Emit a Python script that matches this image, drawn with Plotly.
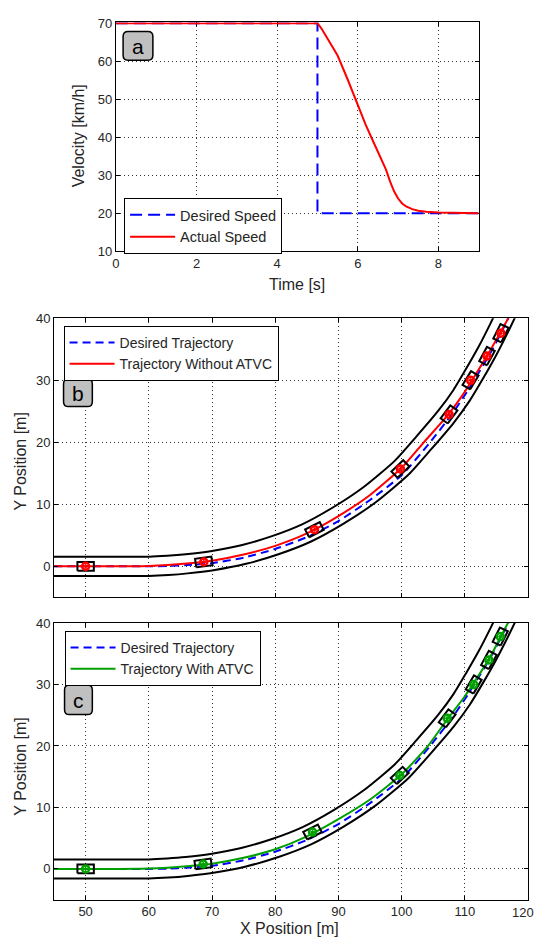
import math
import plotly.graph_objects as go

W, H = 536, 947

# ---------------- Panel a: velocity ----------------
t_desired = [0, 5, 5, 9]
v_desired = [70, 70, 20, 20]
t_actual = [0, 5.0, 5.1, 5.3, 5.5, 5.75, 6.0, 6.2, 6.4, 6.55, 6.7, 6.8, 6.9, 7.0, 7.1, 7.2, 7.35, 7.5, 7.7, 8.0, 8.5, 9.0]
v_actual = [70, 70, 68.6, 65.2, 61.5, 55.2, 48.5, 43.2, 38.5, 35.0, 31.5, 28.4, 25.8, 23.9, 22.6, 21.8, 21.1, 20.7, 20.4, 20.2, 20.1, 20.0]

# ---------------- Road edges ----------------
road_upper_x = [45, 55, 60, 62.89, 65.85, 69.76, 74.62, 79.49, 84.33, 89.18, 94.05, 98.90, 102.32, 105.77, 108.20, 110.15, 112.13, 114.10, 115.60]
road_upper_y = [1.55, 1.55, 1.55, 1.70, 1.94, 2.43, 3.40, 4.86, 6.80, 9.52, 12.83, 17.00, 20.91, 25.05, 28.44, 31.77, 35.32, 39.27, 42.46]
road_lower_x = [45, 55, 60, 63.11, 66.15, 70.24, 75.38, 80.51, 85.67, 90.82, 95.95, 101.10, 104.68, 108.23, 110.80, 112.85, 114.87, 116.90, 118.40]
road_lower_y = [-1.55, -1.55, -1.55, -1.40, -1.14, -0.63, 0.40, 1.94, 4.00, 6.88, 10.37, 14.80, 18.89, 23.15, 26.76, 30.23, 33.88, 37.93, 41.14]

# ---------------- Trajectories ----------------
desired_x = [45, 50, 55, 60, 63, 66, 70, 75, 80, 85, 90, 95, 100, 104.5, 108, 110.5, 112, 114, 116, 117.3]
desired_y = [0, 0, 0, 0, 0.05, 0.2, 0.5, 1.4, 2.8, 4.7, 7.3, 10.7, 14.7, 20.0, 24.6, 28.4, 30.9, 34.3, 38.2, 41.0]

without_x = [45, 50, 55, 60, 63, 66, 70, 75, 80, 85, 90, 95, 100, 103.5, 107, 109.5, 111.5, 113.5, 115.5, 117.2]
without_y = [0, 0, 0, 0.05, 0.2, 0.45, 0.9, 1.9, 3.3, 5.3, 8.1, 11.5, 15.9, 20.0, 24.0, 27.4, 30.6, 33.9, 37.5, 40.6]

with_x = [45, 50, 55, 60, 63, 66, 70, 75, 80, 85, 90, 95, 100, 104, 107.2, 110, 112, 114, 116, 117.3]
with_y = [0, 0, 0, 0.05, 0.2, 0.45, 0.85, 1.8, 3.2, 5.3, 8.1, 11.3, 15.4, 19.8, 24.3, 28.1, 31.2, 34.5, 38.4, 41.0]

# ---------------- Vehicle snapshots ----------------
car_b_x = [50, 68.7, 86.2, 99.8, 107.5, 110.9, 113.5, 115.7]
car_b_y = [0, 0.7, 5.9, 15.7, 24.5, 30.0, 33.9, 37.6]
car_b_heading = [0, 8, 27, 44, 54, 59, 62, 64]

car_c_x = [50, 68.6, 85.9, 99.7, 107.2, 111.4, 113.8, 115.6]
car_c_y = [0, 0.8, 6.0, 15.2, 24.5, 30.0, 34.0, 37.8]
car_c_heading = [0, 8, 27, 44, 54, 60, 62, 64]

x_ticks_traj = [50, 60, 70, 80, 90, 100, 110, 120]
y_ticks_traj = [0, 10, 20, 30, 40]

CAR_L, CAR_W = 2.6, 1.4

FONT = "Liberation Sans, Arial, sans-serif"
TXT = "#262626"
BLUE = "#0000FF"
RED = "#FF0000"
GREEN = "#00A000"


def car_boxes(xs, ys, hs):
    bx, by = [], []
    for x, y, h in zip(xs, ys, hs):
        a = math.radians(h)
        c, s = math.cos(a), math.sin(a)
        for dx, dy in [(-1, -1), (1, -1), (1, 1), (-1, 1), (-1, -1)]:
            lx, ly = dx * CAR_L / 2, dy * CAR_W / 2
            bx.append(x + lx * c - ly * s)
            by.append(y + lx * s + ly * c)
        bx.append(None)
        by.append(None)
    return bx, by


fig = go.Figure()

# Panel a
fig.add_trace(go.Scatter(x=t_desired, y=v_desired, mode="lines", name="Desired Speed",
                         line=dict(color=BLUE, width=2, dash="12px,6px"),
                         xaxis="x", yaxis="y", legend="legend"))
fig.add_trace(go.Scatter(x=t_actual, y=v_actual, mode="lines", name="Actual Speed",
                         line=dict(color=RED, width=2),
                         xaxis="x", yaxis="y", legend="legend"))


def add_traj_panel(xa, ya, leg, tx, ty, tname, tcolor, cx, cy, ch):
    for ex, ey in [(road_upper_x, road_upper_y), (road_lower_x, road_lower_y)]:
        fig.add_trace(go.Scatter(x=ex, y=ey, mode="lines", showlegend=False,
                                 line=dict(color="black", width=2, shape="spline", smoothing=0.6),
                                 xaxis=xa, yaxis=ya, hoverinfo="skip"))
    fig.add_trace(go.Scatter(x=desired_x, y=desired_y, mode="lines", name="Desired Trajectory",
                             line=dict(color=BLUE, width=2, dash="8px,5px", shape="spline", smoothing=0.6),
                             xaxis=xa, yaxis=ya, legend=leg))
    fig.add_trace(go.Scatter(x=tx, y=ty, mode="lines", name=tname,
                             line=dict(color=tcolor, width=2, shape="spline", smoothing=0.6),
                             xaxis=xa, yaxis=ya, legend=leg))
    bx, by = car_boxes(cx, cy, ch)
    fig.add_trace(go.Scatter(x=bx, y=by, mode="lines", showlegend=False,
                             line=dict(color="black", width=2),
                             xaxis=xa, yaxis=ya, hoverinfo="skip"))
    fig.add_trace(go.Scatter(x=cx, y=cy, mode="markers", showlegend=False,
                             marker=dict(symbol="circle-open-dot", size=7, color=tcolor,
                                         line=dict(color=tcolor, width=2.5)),
                             xaxis=xa, yaxis=ya, hoverinfo="skip"))


add_traj_panel("x2", "y2", "legend2", without_x, without_y, "Trajectory Without ATVC", RED,
               car_b_x, car_b_y, car_b_heading)
add_traj_panel("x3", "y3", "legend3", with_x, with_y, "Trajectory With ATVC", GREEN,
               car_c_x, car_c_y, car_c_heading)


def px_x(p):
    return p / W


def px_y(p):
    return 1 - p / H


axis_common = dict(showline=True, linecolor="black", linewidth=1, mirror="ticks",
                   ticks="inside", ticklen=4, tickcolor="black",
                   showgrid=True, gridcolor="#333333", gridwidth=1, griddash="1px,3px",
                   zeroline=False, tickfont=dict(family=FONT, size=13, color=TXT))

legend_common = dict(xanchor="left", yanchor="top", bgcolor="white", bordercolor="black",
                     borderwidth=1, itemwidth=45)

layout = dict(
    width=W, height=H, autosize=False,
    margin=dict(l=0, r=0, t=0, b=0),
    paper_bgcolor="white", plot_bgcolor="white",
    font=dict(family=FONT, color=TXT),
    xaxis=dict(axis_common, domain=[px_x(112.7), px_x(478.3)], range=[0, 9],
               tickvals=[0, 2, 4, 6, 8], anchor="y", layer="below traces"),
    yaxis=dict(axis_common, domain=[px_y(248.3), px_y(15.7)], range=[10, 70.2],
               tickvals=[10, 20, 30, 40, 50, 60, 70], anchor="x", layer="below traces"),
    xaxis2=dict(axis_common, domain=[px_x(50.4), px_x(528)], range=[45, 120],
                tickvals=x_ticks_traj, showticklabels=False, anchor="y2"),
    yaxis2=dict(axis_common, domain=[px_y(599.8), px_y(316.3)], range=[-5, 40],
                tickvals=y_ticks_traj, anchor="x2"),
    xaxis3=dict(axis_common, domain=[px_x(50.4), px_x(528)], range=[45, 120],
                tickvals=x_ticks_traj, anchor="y3"),
    yaxis3=dict(axis_common, domain=[px_y(907), px_y(626)], range=[-5, 40],
                tickvals=y_ticks_traj, anchor="x3"),
    legend=dict(legend_common, x=px_x(121), y=px_y(194),
                font=dict(family=FONT, size=14.5, color=TXT)),
    legend2=dict(legend_common, x=px_x(60), y=px_y(324),
                 font=dict(family=FONT, size=14, color=TXT)),
    legend3=dict(legend_common, x=px_x(61), y=px_y(634),
                 font=dict(family=FONT, size=14, color=TXT)),
)
fig.update_layout(**layout)


def rounded_rect(x0, y0, x1, y1, r):
    X = lambda v: px_x(v)
    Y = lambda v: px_y(v)
    return (f"M {X(x0 + r)},{Y(y0)} L {X(x1 - r)},{Y(y0)} Q {X(x1)},{Y(y0)} {X(x1)},{Y(y0 + r)} "
            f"L {X(x1)},{Y(y1 - r)} Q {X(x1)},{Y(y1)} {X(x1 - r)},{Y(y1)} "
            f"L {X(x0 + r)},{Y(y1)} Q {X(x0)},{Y(y1)} {X(x0)},{Y(y1 - r)} "
            f"L {X(x0)},{Y(y0 + r)} Q {X(x0)},{Y(y0)} {X(x0 + r)},{Y(y0)} Z")


shapes = []
annotations = []
for (x0, y0, x1, y1, lab) in [(120, 25, 150, 54, "a"), (60, 378, 89, 406, "b"), (61, 689, 89, 719, "c")]:
    shapes.append(dict(type="path", xref="paper", yref="paper", path=rounded_rect(x0, y0, x1, y1, 5),
                       fillcolor="#C0C0C0", line=dict(color="black", width=1.5), layer="above"))
    annotations.append(dict(x=px_x((x0 + x1) / 2), y=px_y((y0 + y1) / 2 + 1), xref="paper", yref="paper",
                            text=lab, showarrow=False, font=dict(family=FONT, size=21, color="black"),
                            xanchor="center", yanchor="middle"))

# last x tick label of the bottom panel sits at the page edge (plotly hides it as overflow)
annotations.append(dict(x=1.0, xref="paper", y=-5, yref="y3", yshift=-3,
                        text=str(x_ticks_traj[-1]), showarrow=False, xanchor="right", yanchor="top",
                        font=dict(family=FONT, size=13, color=TXT)))

# axis titles
titles = [
    dict(x=px_x(295), y=px_y(282), text="Time [s]", textangle=0, yanchor="middle"),
    dict(x=px_x(75), y=px_y(131), text="Velocity [km/h]", textangle=-90, yanchor="middle"),
    dict(x=px_x(17), y=px_y(462), text="Y Position [m]", textangle=-90, yanchor="middle"),
    dict(x=px_x(17), y=px_y(772), text="Y Position [m]", textangle=-90, yanchor="middle"),
    dict(x=px_x(288), y=0, text="X Position [m]", textangle=0, yanchor="bottom"),
]
for a in titles:
    a.update(xref="paper", yref="paper", showarrow=False, xanchor="center",
             font=dict(family=FONT, size=16, color=TXT))
annotations += titles

fig.update_layout(shapes=shapes, annotations=annotations)

fig.write_html("out.html")
